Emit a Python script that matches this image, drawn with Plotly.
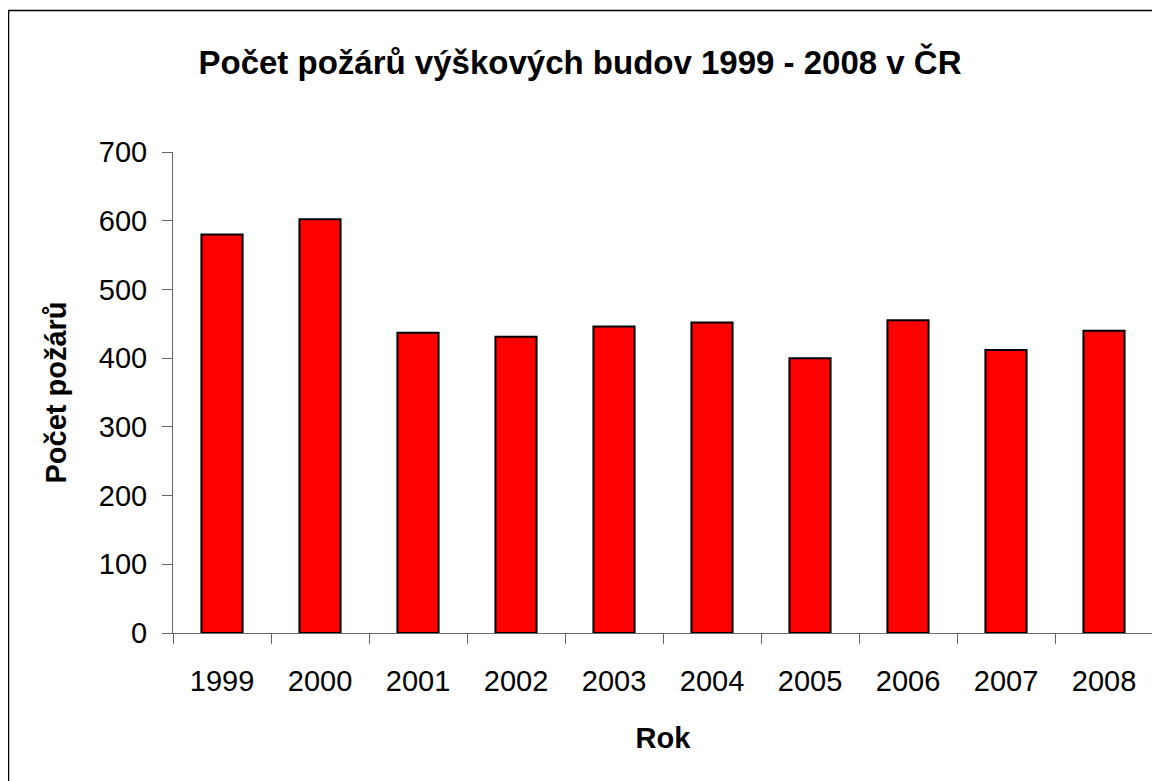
import plotly.graph_objects as go

# Počet požárů výškových budov v ČR
years = ["1999", "2000", "2001", "2002", "2003", "2004", "2005", "2006", "2007", "2008"]
fires = [580, 602, 437, 431, 446, 452, 400, 455, 412, 440]
y_ticks = [0, 100, 200, 300, 400, 500, 600, 700]

FONT = "Liberation Sans, Arial, sans-serif"
AXIS_GREY = "#666666"

# page body has an 8px margin, so the figure starts at (8, 8)
OFF = 8
W, H = 1160 - OFF, 781 - OFF
M_L, M_R, M_T, M_B = 173 - OFF, 7, 152 - OFF, 148
PW, PH = W - M_L - M_R, H - M_T - M_B


def px_x(p):
    # page pixel -> paper x
    return (p - OFF - M_L) / PW


def px_y(p):
    # page pixel -> paper y
    return (H - M_B - (p - OFF)) / PH


fig = go.Figure(
    go.Bar(
        x=years,
        y=fires,
        marker=dict(color="#ff0000", line=dict(color="black", width=2)),
    )
)

fig.update_layout(
    width=W,
    height=H,
    margin=dict(l=M_L, r=M_R, t=M_T, b=M_B, pad=0),
    paper_bgcolor="white",
    plot_bgcolor="white",
    bargap=0.58,
    showlegend=False,
    font=dict(family=FONT, size=29, color="black"),
    title=dict(
        text="<b>Počet požárů výškových budov 1999 - 2008 v ČR</b>",
        x=(580 - OFF) / W,
        xref="container",
        xanchor="center",
        y=1 - (62 - OFF) / H,
        yref="container",
        yanchor="middle",
        font=dict(family=FONT, size=33, color="black"),
    ),
)

fig.update_xaxes(
    title=dict(text="<b>Rok</b>", standoff=31, font=dict(size=29)),
    showline=True,
    linecolor=AXIS_GREY,
    linewidth=1,
    ticks="outside",
    tickson="boundaries",
    ticklen=10,
    tickcolor=AXIS_GREY,
    ticklabelstandoff=22,
    showgrid=False,
)

fig.update_yaxes(
    title=dict(text="<b>Počet požárů</b>", standoff=23, font=dict(size=29)),
    range=[0, 700],
    tickvals=y_ticks,
    showline=True,
    linecolor=AXIS_GREY,
    linewidth=1,
    ticks="outside",
    ticklen=10,
    tickcolor=AXIS_GREY,
    ticklabelstandoff=9,
    showgrid=False,
    zeroline=False,
)

# outer chart border
fig.add_shape(
    type="rect",
    xref="paper",
    yref="paper",
    x0=px_x(8.5),
    x1=px_x(1165),
    y0=px_y(790),
    y1=px_y(10.5),
    line=dict(color="black", width=1.5),
    fillcolor="rgba(0,0,0,0)",
    layer="below",
)

fig.write_html("out.html")
